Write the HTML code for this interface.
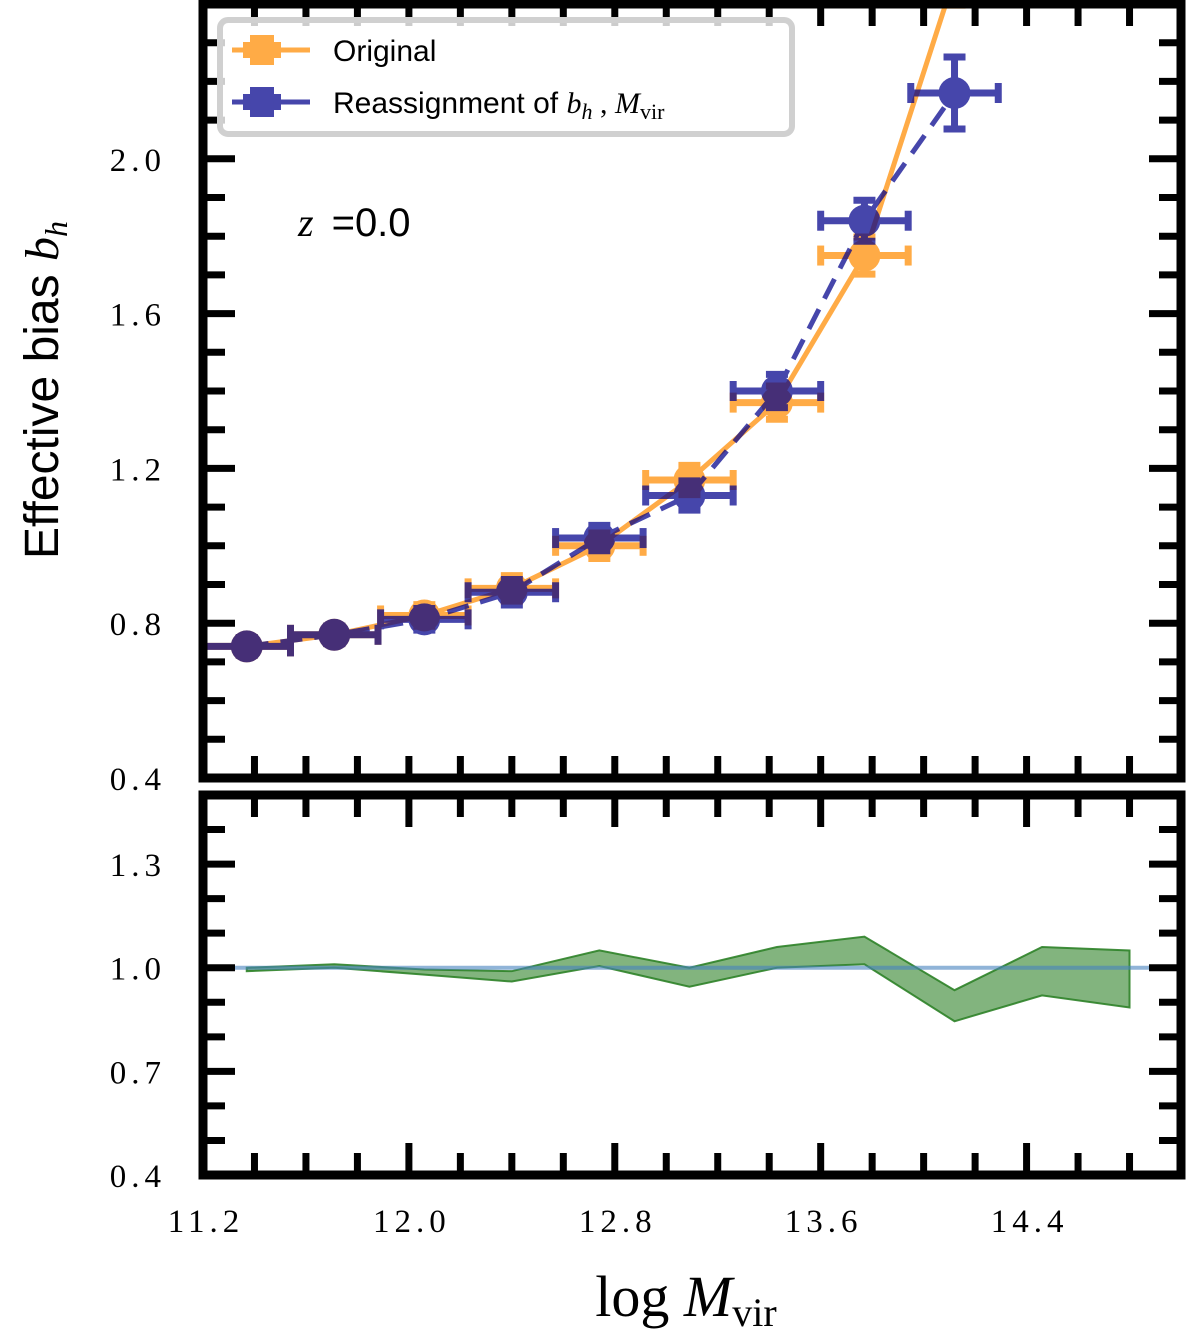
<!DOCTYPE html>
<html><head><meta charset="utf-8"><style>
body{margin:0;background:#fff;}
</style></head><body>
<svg id="chart" width="1200" height="1338" viewBox="0 0 1200 1338" xmlns="http://www.w3.org/2000/svg" font-family="Liberation Serif, serif">
<defs>
<clipPath id="cTop"><rect x="203" y="4" width="978" height="774"/></clipPath>
<clipPath id="cBot"><rect x="203" y="795" width="978" height="380"/></clipPath>
</defs>
<g id="topPanel"></g>
<g id="botPanel"></g>
<g id="axes"></g>
<text x="298" y="236" font-size="40"><tspan font-style="italic">z</tspan><tspan font-family="Liberation Sans, sans-serif" dx="18">=0.0</tspan></text>
<text transform="translate(58,390) rotate(-90)" text-anchor="middle" font-size="48"><tspan font-family="Liberation Sans, sans-serif">Effective bias </tspan><tspan font-style="italic">b</tspan><tspan font-style="italic" font-size="32" dy="9">h</tspan></text>
<text x="686" y="1316" text-anchor="middle" font-size="58">log <tspan font-style="italic">M</tspan><tspan font-size="40" dy="10">vir</tspan></text>
<g>
<rect x="220" y="20" width="572" height="114" rx="8" fill="rgba(255,255,255,0.8)" stroke="#d0d0d0" stroke-width="6"/>
<g id="legOrig"></g>
<text x="333" y="61" font-size="30" font-family="Liberation Sans, sans-serif">Original</text>
<g id="legReas"></g>
<text x="333" y="113" font-size="30"><tspan font-family="Liberation Sans, sans-serif">Reassignment of </tspan><tspan font-style="italic">b</tspan><tspan font-style="italic" font-size="22" dy="6">h</tspan><tspan dy="-6"> , </tspan><tspan font-style="italic">M</tspan><tspan font-size="22" dy="6">vir</tspan></text>
</g>
</svg>
<script>
const massX = [11.37, 11.71, 12.06, 12.40, 12.74, 13.09, 13.43, 13.77, 14.12];
const massXErr = [0.17, 0.17, 0.17, 0.17, 0.17, 0.17, 0.17, 0.17, 0.17];
const biasOrig = [0.74, 0.77, 0.82, 0.89, 1.00, 1.17, 1.37, 1.75, 2.47];
const biasOrigErr = [0.01, 0.01, 0.015, 0.02, 0.02, 0.025, 0.03, 0.035, 0.06];
const biasReas = [0.74, 0.77, 0.81, 0.88, 1.02, 1.13, 1.40, 1.84, 2.17];
const biasReasErr = [0.01, 0.01, 0.015, 0.02, 0.02, 0.025, 0.03, 0.04, 0.08];
const ratioX = [11.37, 11.71, 12.06, 12.40, 12.74, 13.09, 13.43, 13.77, 14.12, 14.46, 14.80];
const ratioHi = [1.00, 1.01, 0.995, 0.99, 1.05, 1.00, 1.06, 1.09, 0.935, 1.06, 1.05];
const ratioLo = [0.99, 1.00, 0.98, 0.96, 1.005, 0.945, 1.00, 1.01, 0.845, 0.92, 0.885];
const xTicks = [11.2, 12.0, 12.8, 13.6, 14.4];
const yTopTicks = [0.4, 0.8, 1.2, 1.6, 2.0];
const yBotTicks = [0.4, 0.7, 1.0, 1.3];

const NS = "http://www.w3.org/2000/svg";
const L = 203, R = 1181;
const TT = 4, TB = 778, BT = 795, BB = 1175;
const X = v => L + (v - 11.2) / (15.0 - 11.2) * (R - L);
const YT = v => TB - (v - 0.4) / (2.4 - 0.4) * (TB - TT);
const YB = v => BB - (v - 0.4) / (1.5 - 0.4) * (BB - BT);
function mk(parent, tag, attrs) {
  const e = document.createElementNS(NS, tag);
  for (const k in attrs) e.setAttribute(k, attrs[k]);
  parent.appendChild(e);
  return e;
}
const gTop = document.getElementById('topPanel');
const gBot = document.getElementById('botPanel');
const axes = document.getElementById('axes');

// bottom band
const gb = mk(gBot, 'g', {'clip-path': 'url(#cBot)'});
let d = ratioX.map((x, i) => (i ? 'L' : 'M') + X(x) + ',' + YB(ratioHi[i])).join('');
for (let i = ratioX.length - 1; i >= 0; i--) d += 'L' + X(ratioX[i]) + ',' + YB(ratioLo[i]);
const band = mk(gb, 'path', {d: d + 'Z', fill: 'rgba(46,130,40,0.6)', stroke: 'rgba(46,130,40,0.9)', 'stroke-width': 2});


const ref = mk(gb, 'line', {x1: L, x2: R, y1: YB(1), y2: YB(1), stroke: 'rgba(70,130,190,0.6)', 'stroke-width': 4});



// top series
const gt = mk(gTop, 'g', {'clip-path': 'url(#cTop)'});
function series(vals, errs, color, dash, name) {
  const g = mk(gt, 'g', {opacity: 0.72});
  
  
  const pl = mk(g, 'polyline', {points: massX.map((x, i) => X(x) + ',' + YT(vals[i])).join(' '), fill: 'none', stroke: color, 'stroke-width': 5, 'stroke-dasharray': dash || 'none'});
  
  
  massX.forEach((x, i) => {
    const cx = X(x), cy = YT(vals[i]);
    const x1 = X(x - massXErr[i]), x2 = X(x + massXErr[i]);
    const y1 = YT(vals[i] + errs[i]), y2 = YT(vals[i] - errs[i]);
    const p = mk(g, 'g', {});
    
    
    mk(p, 'line', {x1: x1, x2: x2, y1: cy, y2: cy, stroke: color, 'stroke-width': 7});
    mk(p, 'line', {x1: x1, x2: x1, y1: cy - 10, y2: cy + 10, stroke: color, 'stroke-width': 7});
    mk(p, 'line', {x1: x2, x2: x2, y1: cy - 10, y2: cy + 10, stroke: color, 'stroke-width': 7});
    mk(p, 'line', {x1: cx, x2: cx, y1: y1 - 5, y2: y2 + 5, stroke: color, 'stroke-width': 7});
    mk(p, 'line', {x1: cx - 11, x2: cx + 11, y1: y1 - 5, y2: y1 - 5, stroke: color, 'stroke-width': 7});
    mk(p, 'line', {x1: cx - 11, x2: cx + 11, y1: y2 + 5, y2: y2 + 5, stroke: color, 'stroke-width': 7});
    mk(p, 'circle', {cx: cx, cy: cy, r: 16, fill: color});
  });
}
series(biasOrig, biasOrigErr, '#ff8c00', null, 'original-series');
series(biasReas, biasReasErr, '#00008b', '22,12', 'reassignment-series');

// legend markers
function legMark(id, color, y) {
  const g = mk(document.getElementById(id), 'g', {opacity: 0.72});
  mk(g, 'line', {x1: 232, x2: 310, y1: y, y2: y, stroke: color, 'stroke-width': 5});
  mk(g, 'rect', {x: 250, y: y - 15, width: 24, height: 30, fill: color});
  mk(g, 'rect', {x: 243, y: y - 8, width: 38, height: 16, fill: color});
  mk(g, 'circle', {cx: 262, cy: y, r: 12, fill: color});
}
legMark('legOrig', '#ff8c00', 50);
legMark('legReas', '#00008b', 102);

// axes frames & ticks
function frame(t, b, Y, yMinorStep, yMajor, yMin, yMax, labels, xMajLong) {
  mk(axes, 'rect', {x: L, y: t, width: R - L, height: b - t, fill: 'none', stroke: '#000', 'stroke-width': 9});
  for (let v = 11.2; v <= 15.0001; v += 0.2) {
    const x = X(v);
    const major = Math.abs(((v - 11.2) / 0.8) - Math.round((v - 11.2) / 0.8)) < 1e-6;
    const len = (xMajLong && major) ? 32 : 22;
    mk(axes, 'line', {x1: x, x2: x, y1: t, y2: t + len, stroke: '#000', 'stroke-width': 7});
    mk(axes, 'line', {x1: x, x2: x, y1: b, y2: b - len, stroke: '#000', 'stroke-width': 7});
  }
  for (let v = yMin; v <= yMax + 1e-6; v += yMinorStep) {
    const y = Y(v);
    const major = Math.abs(((v - yMin) / yMajor) - Math.round((v - yMin) / yMajor)) < 1e-6;
    const len = major ? 32 : 22;
    mk(axes, 'line', {x1: L, x2: L + len, y1: y, y2: y, stroke: '#000', 'stroke-width': 7});
    mk(axes, 'line', {x1: R, x2: R - len, y1: y, y2: y, stroke: '#000', 'stroke-width': 7});
  }
  labels.forEach(v => {
    const tx = mk(axes, 'text', {x: 166, y: Y(v) + 12, 'text-anchor': 'end', 'font-size': 33, 'letter-spacing': 5});
    
    
    tx.textContent = v.toFixed(1);
  });
}
frame(TT, TB, YT, 0.1, 0.4, 0.4, 2.4, yTopTicks, false);
frame(BT, BB, YB, 0.1, 0.3, 0.4, 1.5, yBotTicks, true);
xTicks.forEach(v => {
  const tx = mk(axes, 'text', {x: X(v) + 3, y: 1232, 'text-anchor': 'middle', 'font-size': 33, 'letter-spacing': 5});
  
  
  tx.textContent = v.toFixed(1);
});
</script>
</body></html>
